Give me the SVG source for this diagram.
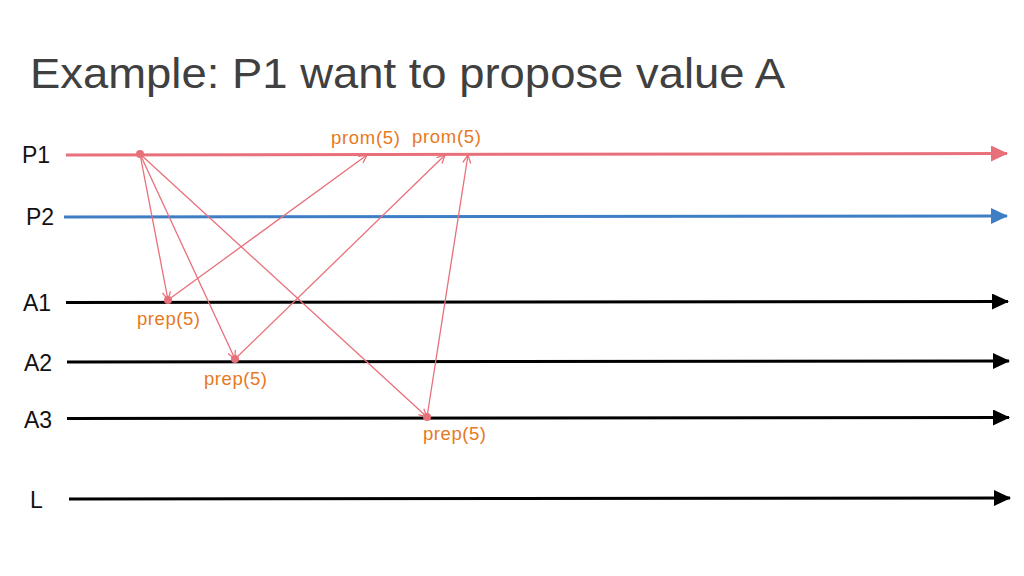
<svg xmlns="http://www.w3.org/2000/svg" width="1024" height="576" viewBox="0 0 1024 576">
<style>
.lbl{font-family:"Liberation Sans",Arial,sans-serif;font-size:23px;fill:#111}
.msg{font-family:"Liberation Sans",Arial,sans-serif;font-size:18.5px;fill:#E8781E}
.tl{stroke-width:3;fill:none}
.m{stroke:#E8707A;stroke-width:1.3;fill:none}
</style>
<defs>
<marker id="hr" markerWidth="17" markerHeight="16" refX="16" refY="8" orient="auto" markerUnits="userSpaceOnUse"><path d="M0,0L17,8L0,16z" fill="#E8707A"/></marker>
<marker id="hb" markerWidth="17" markerHeight="16" refX="16" refY="8" orient="auto" markerUnits="userSpaceOnUse"><path d="M0,0L17,8L0,16z" fill="#3E7EC5"/></marker>
<marker id="hk" markerWidth="17" markerHeight="16" refX="16" refY="8" orient="auto" markerUnits="userSpaceOnUse"><path d="M0,0L17,8L0,16z" fill="#000"/></marker>
<marker id="ho" markerWidth="10" markerHeight="10" refX="9" refY="5" orient="auto" markerUnits="userSpaceOnUse"><path d="M1,1L9,5L1,9" fill="none" stroke="#E8707A" stroke-width="1.3"/></marker>
</defs>
<rect width="1024" height="576" fill="#fff"/>
<text x="30" y="88" font-family="'Liberation Sans',Arial,sans-serif" font-size="42" fill="#404040" textLength="755" lengthAdjust="spacingAndGlyphs">Example: P1 want to propose value A</text>
<g id="P1"><text class="lbl" x="22" y="163">P1</text><line class="tl" x1="66" y1="155" x2="1007" y2="153.5" stroke="#E8707A" marker-end="url(#hr)"/></g>
<g id="P2"><text class="lbl" x="26" y="225">P2</text><line class="tl" x1="64" y1="217" x2="1007" y2="216" stroke="#3E7EC5" marker-end="url(#hb)"/></g>
<g id="A1"><text class="lbl" x="23" y="311">A1</text><line class="tl" x1="66" y1="302.5" x2="1008" y2="301.5" stroke="#000" marker-end="url(#hk)"/></g>
<g id="A2"><text class="lbl" x="24" y="371">A2</text><line class="tl" x1="67" y1="362" x2="1009" y2="361" stroke="#000" marker-end="url(#hk)"/></g>
<g id="A3"><text class="lbl" x="24" y="428">A3</text><line class="tl" x1="67" y1="418.5" x2="1009" y2="417.5" stroke="#000" marker-end="url(#hk)"/></g>
<g id="L"><text class="lbl" x="30" y="508">L</text><line class="tl" x1="69" y1="499" x2="1010" y2="498" stroke="#000" marker-end="url(#hk)"/></g>
<g id="connectors">
<line class="m" x1="140" y1="154" x2="168" y2="300" marker-end="url(#ho)"/>
<line class="m" x1="140" y1="154" x2="235" y2="359" marker-end="url(#ho)"/>
<line class="m" x1="140" y1="154" x2="427" y2="417" marker-end="url(#ho)"/>
<line class="m" x1="168" y1="300" x2="367" y2="155" marker-end="url(#ho)"/>
<line class="m" x1="235" y1="359" x2="445" y2="155" marker-end="url(#ho)"/>
<line class="m" x1="427" y1="417" x2="468" y2="155" marker-end="url(#ho)"/>
</g>
<g id="dots" fill="#E8707A">
<circle cx="140" cy="154" r="4"/><circle cx="168" cy="300" r="4"/><circle cx="235" cy="359" r="4"/><circle cx="427" cy="417" r="4"/>
</g>
<g id="labels">
<text class="msg" x="331" y="144" textLength="69">prom(5)</text>
<text class="msg" x="412" y="143" textLength="69">prom(5)</text>
<text class="msg" x="137" y="325" textLength="63">prep(5)</text>
<text class="msg" x="204" y="385" textLength="63">prep(5)</text>
<text class="msg" x="423" y="440" textLength="63">prep(5)</text>
</g>
</svg>
